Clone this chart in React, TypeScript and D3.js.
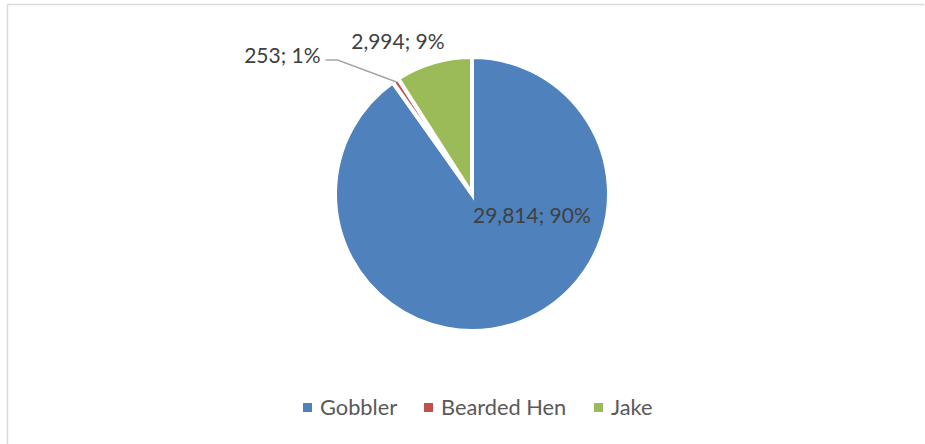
import React from "react";
import * as d3 from "d3";

const categories = ["Gobbler", "Bearded Hen", "Jake"];
const values = [29814, 253, 2994];
const percentLabels = ["90%", "1%", "9%"];
const colors = ["#4F81BD", "#C0504D", "#9BBB59"];

const W = 925;
const H = 444;
const cx = 472;
const cy = 194;
const R = 137;
const FONT = "Lato, 'Open Sans', sans-serif";

export default function App() {
  const pie = d3.pie<number>().sort(null).value((d) => d);
  const arcs = pie(values);
  const arcGen = d3.arc<d3.PieArcDatum<number>>().innerRadius(0).outerRadius(R);
  const fmt = d3.format(",");
  const labelText = (i: number) => `${fmt(values[i])}; ${percentLabels[i]}`;

  // leader line for small slice
  const a1 = arcs[1];
  const mid1 = (a1.startAngle + a1.endAngle) / 2;
  const p0: [number, number] = [cx + (R - 2) * Math.sin(mid1), cy - (R - 2) * Math.cos(mid1)];
  const p1: [number, number] = [p0[0] - 59, p0[1] - 22];
  const p2: [number, number] = [p1[0] - 12, p1[1]];

  const a2 = arcs[2];
  const mid2 = (a2.startAngle + a2.endAngle) / 2;
  const jx = cx + (R + 20) * Math.sin(mid2) - 30;
  const jy = cy - (R + 20) * Math.cos(mid2) + 6;

  const legendX = [303, 424, 594];

  return (
    <svg width={W} height={H} style={{ position: "absolute", left: 0, top: 0 }}>
      <rect x={0} y={0} width={W} height={H} fill="#fff" />
      <line x1={7.5} y1={4.5} x2={W - 1} y2={4.5} stroke="#D9D9D9" strokeWidth={1.5} />
      <line x1={7.5} y1={4.5} x2={7.5} y2={H} stroke="#D9D9D9" strokeWidth={1.5} />
      <g transform={`translate(${cx},${cy})`}>
        {arcs.map((a, i) => (
          <path key={i} d={arcGen(a) || ""} fill={colors[i]} stroke="#fff" strokeWidth={4} strokeLinejoin="miter" />
        ))}
      </g>
      <polyline
        points={[p0, p1, p2].map((p) => p.join(",")).join(" ")}
        fill="none"
        stroke="#A6A6A6"
        strokeWidth={1.5}
      />
      <g fontFamily={FONT} fontSize={21} fill="#404040">
        <text x={cx + 1} y={cy + 29}>{labelText(0)}</text>
        <text x={p2[0] - 5} y={p2[1] + 2.5} textAnchor="end">{labelText(1)}</text>
        <text x={jx} y={jy} textAnchor="middle">{labelText(2)}</text>
      </g>
      <g fontFamily={FONT} fontSize={21.8} fill="#595959">
        {categories.map((c, i) => (
          <g key={c}>
            <rect x={legendX[i]} y={403} width={9} height={9} fill={colors[i]} />
            <text x={legendX[i] + 17} y={415}>{c}</text>
          </g>
        ))}
      </g>
    </svg>
  );
}
